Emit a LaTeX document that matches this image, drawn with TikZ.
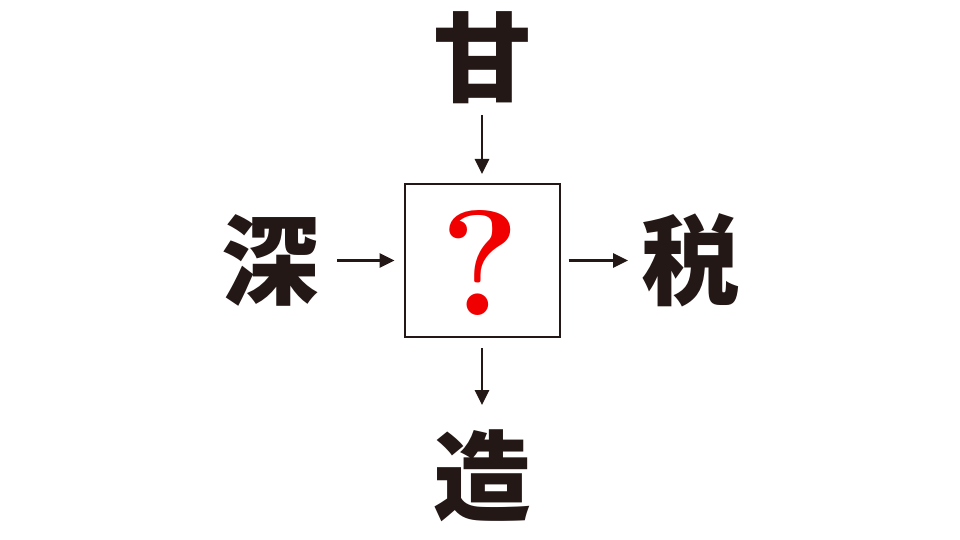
\documentclass[tikz,border=0pt]{standalone}
\usepackage{fontspec}
\newfontfamily\cjk{Noto Sans CJK JP}
\usetikzlibrary{arrows.meta}
\definecolor{ink}{HTML}{231815}
\definecolor{qred}{HTML}{F00000}
\tikzset{
  kanji/.style={inner sep=0pt, text=ink, font=\cjk\bfseries\fontsize{98}{100}\selectfont},
  arr/.style={draw=ink, line width=2.7pt, -{Triangle[length=15pt,width=14pt]}},
  qbox/.style={draw=ink, line width=2pt, minimum width=155pt, minimum height=153pt, inner sep=0pt}
}
\begin{document}
\begin{tikzpicture}[x=1pt,y=-1pt]
\useasboundingbox[fill=white] (0,0) rectangle (960,540);
\node[qbox] (box) at (482,260.5) {};
\node[text=qred, inner sep=0pt, font=\bfseries\fontsize{150}{150}\selectfont] (q) at (480,263) {?};
\node[kanji] (top) at (482,58) {甘};
\node[kanji] (left) at (270,260) {深};
\node[kanji] (right) at (690,260) {税};
\node[kanji] (bottom) at (482,476) {造};
\draw[arr] ([yshift=-57pt]top.center) -- ([yshift=9pt]box.north);
\draw[arr] ([xshift=67pt]left.center |- box.center) -- ([xshift=-9pt]box.west);
\draw[arr] ([xshift=8pt]box.east) -- ([xshift=-62pt]right.center |- box.center);
\draw[arr] ([yshift=-10pt]box.south) -- ([yshift=71pt]bottom.center);
\end{tikzpicture}
\end{document}
